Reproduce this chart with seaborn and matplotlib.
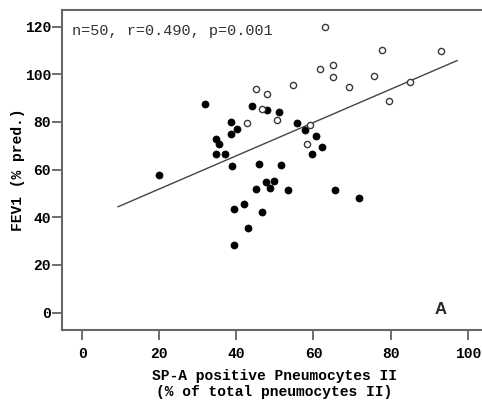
import matplotlib
matplotlib.use('Agg')
import matplotlib.pyplot as plt
import numpy as np
import pandas as pd
import seaborn as sns

# open circles
open_x = [63, 77.8, 93.0, 61.8, 65.0, 65.0, 75.6, 69.3, 85.1, 79.6,
          54.8, 45.2, 47.9, 46.7, 50.5, 42.7, 59.1, 58.3]
open_y = [120, 110.4, 110, 102.1, 103.8, 98.7, 99.3, 94.7, 96.8, 88.7,
          95.7, 93.7, 91.7, 85.4, 80.7, 79.6, 78.9, 70.9]

# filled circles
filled_x = [31.8, 44.0, 47.9, 51.1, 38.6, 40.1, 38.5, 55.8, 57.8, 60.6,
            62.2, 59.7, 34.8, 35.4, 34.7, 37.0, 39.0, 45.8, 51.5, 19.9,
            47.8, 49.7, 48.8, 45.1, 53.3, 65.7, 71.9, 39.3, 42.1, 46.6,
            43.0, 39.4]
filled_y = [87.7, 86.7, 85.0, 84.3, 80.1, 77.0, 74.9, 79.4, 76.5, 74.1,
            69.7, 66.5, 72.8, 70.6, 66.7, 66.7, 61.6, 62.5, 61.9, 57.6,
            55.0, 55.3, 52.5, 51.7, 51.4, 51.4, 47.9, 43.4, 45.4, 42.1,
            35.4, 28.4]

x_ticks = [0, 20, 40, 60, 80, 100]
y_ticks = [0, 20, 40, 60, 80, 100, 120]
fit_range = [9.3, 97.3]

df = pd.DataFrame({
    'spa': open_x + filled_x,
    'fev1': open_y + filled_y,
    'group': ['open'] * len(open_x) + ['filled'] * len(filled_x),
})

sns.set_style('white')
plt.rcParams['font.family'] = ['Liberation Mono', 'DejaVu Sans']

fig = plt.figure(figsize=(4.82, 4.0), dpi=100)
ax = fig.add_axes([62 / 482, 70 / 400, 425 / 482, 320 / 400])

sns.scatterplot(data=df[df['group'] == 'filled'], x='spa', y='fev1', ax=ax,
                color='black', edgecolor='black', s=26, linewidth=0.5,
                zorder=3)
sns.scatterplot(data=df[df['group'] == 'open'], x='spa', y='fev1', ax=ax,
                facecolor='white', edgecolor='#3a3a3a', s=20, linewidth=1.0,
                zorder=3)

# linear fit line
slope, intercept = np.polyfit(df['spa'], df['fev1'], 1)
fx = np.array(fit_range)
ax.plot(fx, slope * fx + intercept, color='#444444', linewidth=1.0, zorder=2)

ax.set_xlim(-5.2, 105)
ax.set_ylim(-7.3, 127)
ax.set_xticks(x_ticks)
ax.set_yticks(y_ticks)
ax.tick_params(axis='both', direction='out', length=7, width=1.2,
               color='#555555', labelsize=10.5, labelcolor='black',
               bottom=True, left=True)
ax.tick_params(axis='x', pad=5)
ax.tick_params(axis='y', pad=1)
for lab in ax.get_xticklabels() + ax.get_yticklabels():
    lab.set_fontweight('bold')
for side in ['left', 'bottom', 'top']:
    ax.spines[side].set_color('#666666')
    ax.spines[side].set_linewidth(1.5)
ax.spines['right'].set_visible(False)

ax.set_xlabel('SP-A positive Pneumocytes II\n(% of total pneumocytes II)',
              fontsize=10.5, fontweight='bold', labelpad=6, linespacing=1.15,
              color='black')
ax.set_ylabel('FEV1 (% pred.)', fontsize=10.5, fontweight='bold',
              color='black')
ax.yaxis.set_label_coords(-0.088, 0.5)

ax.text(0.023, 0.935, 'n=50, r=0.490, p=0.001', transform=ax.transAxes,
        fontsize=11, ha='left', va='center', color='#333333')
ax.text(0.89, 0.063, 'A', transform=ax.transAxes, fontsize=12,
        fontweight='bold', family='Liberation Sans', ha='center',
        va='center')

fig.savefig('out.png', dpi=100)
